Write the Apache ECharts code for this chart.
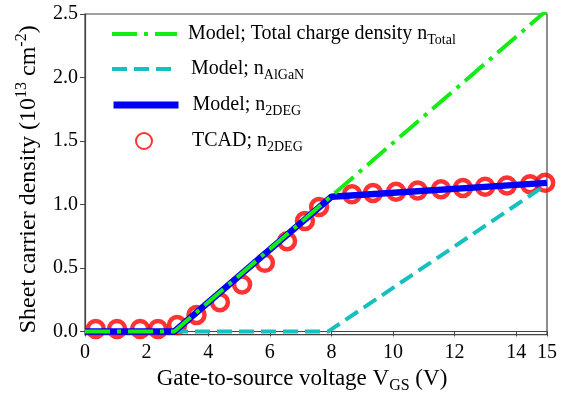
<!DOCTYPE html>
<html><head><meta charset="utf-8">
<script src="https://cdn.jsdelivr.net/npm/echarts@6/dist/echarts.min.js"></script>
<style>html,body{margin:0;padding:0;background:#fff}#c{width:562px;height:399px}</style>
</head><body><div id="c"></div>
<script>
// Model curves (breakpoints)
const totalX = [0, 2.9, 15];
const totalY = [0, 0, 2.53];
const algaNX = [0, 7.9, 15];
const algaNY = [0, 0, 1.16];
const n2degX = [0, 2.9, 8.0, 15];
const n2degY = [0, 0, 1.06, 1.17];
// TCAD points
const tcadX = [0.35, 1.04, 1.79, 2.37, 2.99, 3.62, 4.38, 5.1, 5.84, 6.56, 7.14, 7.6, 8.67, 9.35, 10.1, 10.8, 11.56, 12.27, 12.99, 13.7, 14.45, 14.94];
const tcadY = [0.02, 0.02, 0.02, 0.02, 0.05, 0.13, 0.23, 0.37, 0.54, 0.71, 0.87, 0.98, 1.08, 1.09, 1.10, 1.11, 1.12, 1.13, 1.14, 1.15, 1.16, 1.17];
const xTicks = [0, 2, 4, 6, 8, 10, 12, 14, 15];
const yTicks = [0, 0.5, 1.0, 1.5, 2.0, 2.5];

const zip = (a, b) => a.map((v, i) => [v, b[i]]);
const FONT = 'Liberation Serif';
function mkRich(fs, ss, lh) {
  return {
    b: {fontFamily: FONT, fontSize: fs, color: '#000', lineHeight: lh, verticalAlign: 'middle'},
    sub: {fontFamily: FONT, fontSize: ss, color: '#000', lineHeight: ss, verticalAlign: 'bottom'},
    sup: {fontFamily: FONT, fontSize: ss, color: '#000', lineHeight: ss, verticalAlign: 'top'}
  };
}
const legRich = mkRich(20, 14, 26);
const xRich = mkRich(23, 16, 30);
const yRich = mkRich(24, 16, 30);
const names = {
  total: '{b|Model; Total charge density n}{sub|Total}',
  algan: '{b|Model; n}{sub|AlGaN}',
  deg: '{b|Model; n}{sub|2DEG}',
  tcad: '{b|TCAD; n}{sub|2DEG}'
};
const noSym = {color: 'rgba(0,0,0,0)', borderWidth: 0, borderColor: 'rgba(0,0,0,0)'};
function lg(name, left, top, w, h, padL, lw) {
  const o = {
    data: [name], left: left, top: top, orient: 'vertical', padding: 0,
    itemWidth: w, itemHeight: h, selectedMode: false,
    formatter: n => names[n],
    textStyle: {fontFamily: FONT, rich: legRich, padding: [0, 0, 0, padL]}
  };
  if (lw) { o.lineStyle = {width: lw}; o.itemStyle = noSym; }
  return o;
}
const GREEN = '#14ec14', CYAN = '#17bfbf', BLUE = '#0000f5', RED = '#ff0000';
const chart = echarts.init(document.getElementById('c'), null, {renderer: 'canvas'});
chart.setOption({
  animation: false,
  textStyle: {fontFamily: FONT},
  grid: {left: 85, right: 15, top: 14, bottom: 63, show: true, borderColor: '#444', borderWidth: 1.2},
  legend: [
    lg('total', 110, 24, 65, 14, 6, 4),
    lg('algan', 110, 59, 65, 14, 9, 4),
    lg('deg', 110, 95, 65, 14, 9, 7),
    lg('tcad', 135, 131, 16, 16, 35, 0)
  ],
  xAxis: {
    type: 'value', min: 0, max: 15,
    name: '{b|Gate-to-source voltage V}{sub|GS}{b| (V)}', nameLocation: 'middle', nameGap: 29,
    nameTextStyle: {fontFamily: FONT, rich: xRich, padding: [0, 28, 0, 0]},
    axisLine: {lineStyle: {color: '#444', width: 1.2}},
    axisTick: {customValues: xTicks, length: 5, lineStyle: {color: '#444'}},
    axisLabel: {customValues: xTicks, fontFamily: FONT, fontSize: 20, color: '#000', margin: 8},
    splitLine: {show: false}
  },
  yAxis: {
    type: 'value', min: -0.025, max: 2.5,
    name: '{b|Sheet carrier density (10}{sup|13}{b| cm}{sup|-2}{b|)}', nameLocation: 'middle', nameGap: 41,
    nameTextStyle: {fontFamily: FONT, rich: yRich, padding: [0, 10, 0, 0]},
    axisLine: {lineStyle: {color: '#444', width: 1.2}},
    axisTick: {customValues: yTicks, length: 5, lineStyle: {color: '#444'}},
    axisLabel: {customValues: yTicks, fontFamily: FONT, fontSize: 20, color: '#000', margin: 7,
      formatter: v => v.toFixed(1)},
    splitLine: {show: false}
  },
  series: [
    {name: 'tcad', type: 'scatter', data: zip(tcadX, tcadY), symbol: 'circle', symbolSize: 16, z: 1,
      itemStyle: {color: 'rgba(0,0,0,0)', borderColor: RED, borderWidth: 4.5}},
    {name: 'algan', type: 'line', data: zip(algaNX, algaNY), showSymbol: false, symbol: 'none', z: 2, clip: true,
      lineStyle: {color: CYAN, width: 4, type: [15, 7]}, itemStyle: {color: CYAN}},
    {name: 'deg', type: 'line', data: zip(n2degX, n2degY), showSymbol: false, symbol: 'none', z: 3, clip: true,
      lineStyle: {color: BLUE, width: 6.5}, itemStyle: {color: BLUE}},
    {name: 'total', type: 'line', data: zip(totalX, totalY), showSymbol: false, symbol: 'none', z: 4, clip: true,
      lineStyle: {color: GREEN, width: 4, type: [25, 7, 4, 7]}, itemStyle: {color: GREEN}}
  ]
});
</script></body></html>
